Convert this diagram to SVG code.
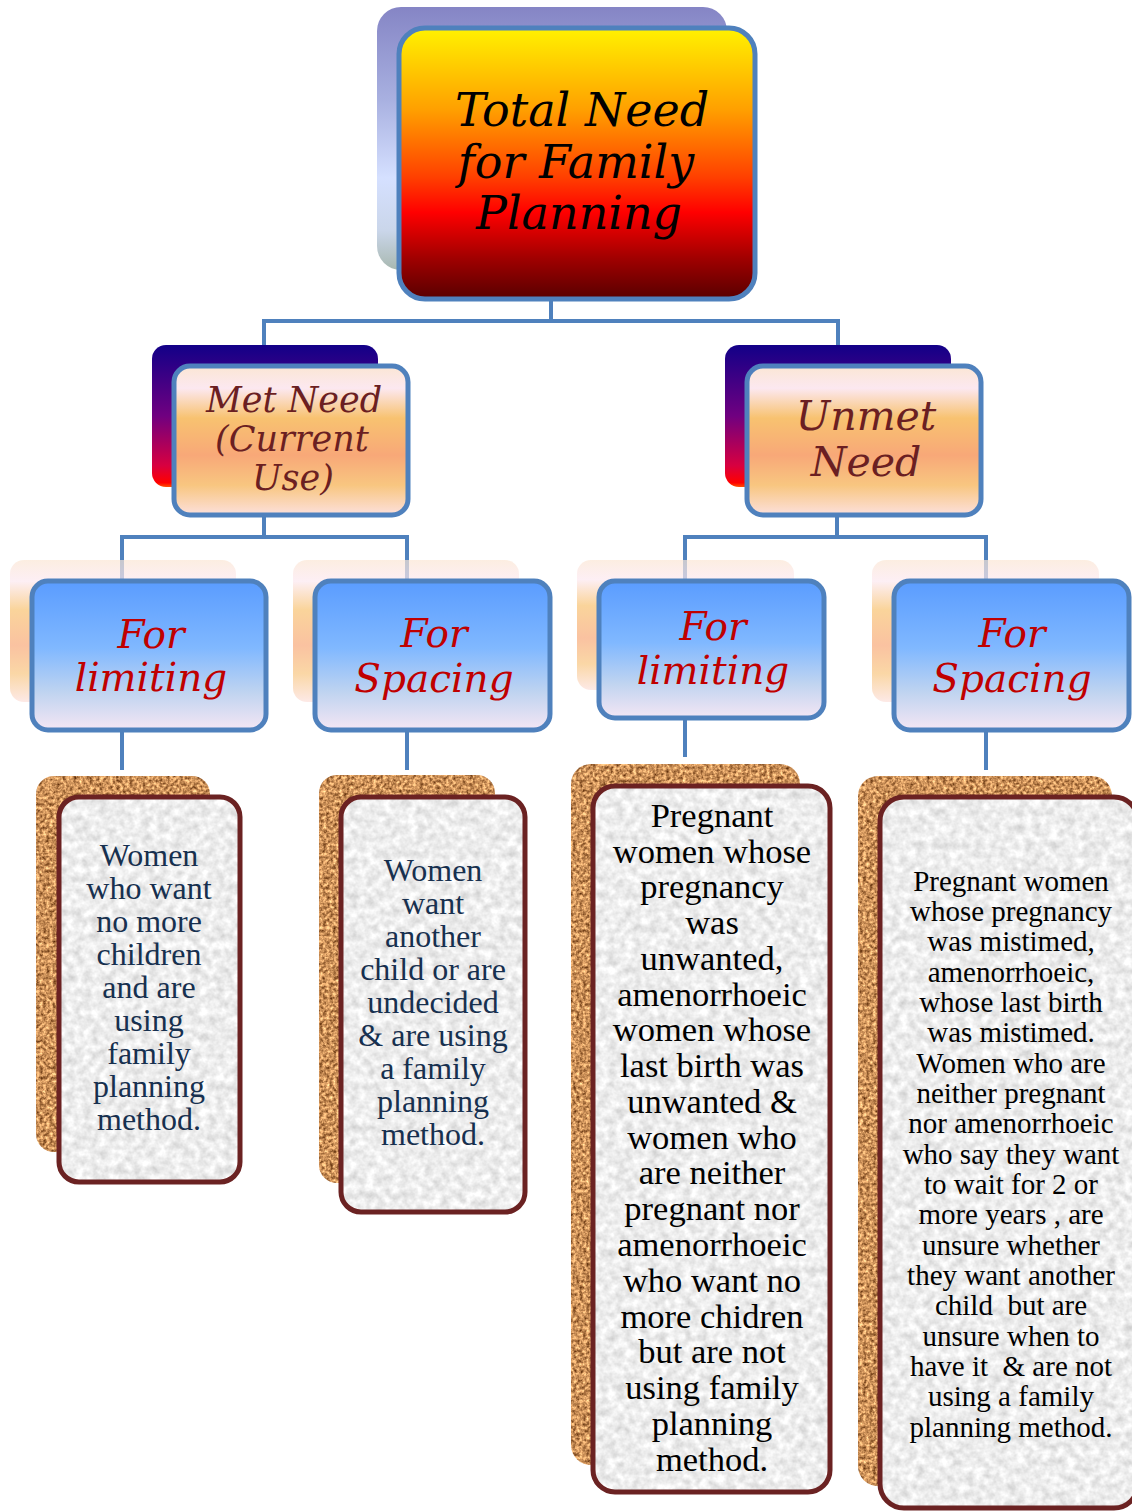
<svg xmlns="http://www.w3.org/2000/svg" width="1132" height="1512" viewBox="0 0 1132 1512">
<defs>
<linearGradient id="gTopBack" x1="0" y1="0" x2="0" y2="1">
<stop offset="0" stop-color="#8585C5"/><stop offset="0.35" stop-color="#A8B0E0"/><stop offset="0.65" stop-color="#D5E0FF"/><stop offset="0.85" stop-color="#CAD6EA"/><stop offset="1" stop-color="#A8B8B0"/>
</linearGradient>
<linearGradient id="gTop" x1="0" y1="0" x2="0" y2="1">
<stop offset="0" stop-color="#FFF200"/><stop offset="0.3" stop-color="#FFA000"/><stop offset="0.55" stop-color="#FF4000"/><stop offset="0.68" stop-color="#FF0000"/><stop offset="0.85" stop-color="#A00000"/><stop offset="1" stop-color="#580000"/>
</linearGradient>
<linearGradient id="gL2Back" x1="0" y1="0" x2="0" y2="1">
<stop offset="0" stop-color="#120088"/><stop offset="0.5" stop-color="#700080"/><stop offset="0.85" stop-color="#D80040"/><stop offset="0.97" stop-color="#FF0000"/><stop offset="1" stop-color="#FF5000"/>
</linearGradient>
<linearGradient id="gPeach" x1="0" y1="0" x2="0" y2="1">
<stop offset="0" stop-color="#FBE6D4"/><stop offset="0.15" stop-color="#FCE8F0"/><stop offset="0.35" stop-color="#F8C270"/><stop offset="0.6" stop-color="#F8A878"/><stop offset="0.8" stop-color="#F8C680"/><stop offset="1" stop-color="#FCE0DC"/>
</linearGradient>
<linearGradient id="gBlue" x1="0" y1="0" x2="0" y2="1">
<stop offset="0" stop-color="#5A9CFF"/><stop offset="0.45" stop-color="#80B8FF"/><stop offset="0.75" stop-color="#C0D4F0"/><stop offset="1" stop-color="#F4E6F4"/>
</linearGradient>
<filter id="cork" x="0" y="0" width="100%" height="100%" color-interpolation-filters="sRGB">
<feTurbulence type="fractalNoise" baseFrequency="0.3" numOctaves="3" seed="4" result="n"/>
<feColorMatrix in="n" type="matrix" values="1.1 0 0 0 0.25  1.0 0 0 0 0.07  0.8 0 0 0 -0.05  0 0 0 0 1" result="c"/>
<feComposite in="c" in2="SourceGraphic" operator="in"/>
</filter>
<filter id="paper" x="0" y="0" width="100%" height="100%" color-interpolation-filters="sRGB">
<feTurbulence type="fractalNoise" baseFrequency="0.12" numOctaves="3" seed="7" result="n"/>
<feColorMatrix in="n" type="matrix" values="0.28 0 0 0 0.79  0.28 0 0 0 0.79  0.28 0 0 0 0.79  0 0 0 0 1" result="c"/>
<feComposite in="c" in2="SourceGraphic" operator="in"/>
</filter>
</defs>
<style>
.conn{fill:none;stroke:#4F81BD;stroke-width:4}
.front{stroke:#4F81BD;stroke-width:5}
.t1{font-family:"DejaVu Serif","Liberation Serif",serif;font-style:italic;font-size:46px;fill:#000;text-anchor:middle}
.t2{font-family:"DejaVu Serif","Liberation Serif",serif;font-style:italic;fill:#6B1F22;text-anchor:middle}
.t3{font-family:"DejaVu Serif","Liberation Serif",serif;font-style:italic;font-size:39px;fill:#C00000;text-anchor:middle}
.t4{font-family:"Liberation Serif","Times New Roman",serif;text-anchor:middle}
.edge{fill:none;stroke:#6B2222;stroke-width:5}
</style>
<rect width="1132" height="1512" fill="#FFFFFF"/>

<g id="connectors">
<path class="conn" d="M551 299V321M264 366V321H838V366"/>
<path class="conn" d="M264 515V537M122 581V537H407V581"/>
<path class="conn" d="M837 515V537M685 581V537H986V581"/>
<path class="conn" d="M122 730V770M407 730V770M685 718V757M986 730V770"/>
</g>

<g id="total-need">
<rect x="377" y="7" width="350" height="263" rx="24" fill="url(#gTopBack)"/>
<rect class="front" x="399" y="28" width="356" height="271" rx="26" fill="url(#gTop)"/>
<text class="t1" x="582" y="126">Total Need</text>
<text class="t1" x="576" y="178">for Family</text>
<text class="t1" x="579" y="229">Planning</text>
</g>

<g id="met-need">
<rect x="152" y="345" width="226" height="142" rx="14" fill="url(#gL2Back)"/>
<rect class="front" x="174" y="366" width="234" height="149" rx="16" fill="url(#gPeach)"/>
<text class="t2" font-size="35" x="294" y="412">Met Need</text>
<text class="t2" font-size="35" x="292" y="451">(Current</text>
<text class="t2" font-size="35" x="293" y="490">Use)</text>
</g>

<g id="unmet-need">
<rect x="725" y="345" width="226" height="142" rx="14" fill="url(#gL2Back)"/>
<rect class="front" x="747" y="366" width="234" height="149" rx="16" fill="url(#gPeach)"/>
<text class="t2" font-size="41" x="866" y="430">Unmet</text>
<text class="t2" font-size="41" x="866" y="476">Need</text>
</g>

<g id="met-limiting">
<rect x="10" y="560" width="226" height="142" rx="14" fill="url(#gPeach)" opacity="0.7"/>
<rect class="front" x="32" y="581" width="234" height="149" rx="16" fill="url(#gBlue)"/>
<text class="t3" x="151" y="648">For</text>
<text class="t3" x="151" y="691">limiting</text>
</g>

<g id="met-spacing">
<rect x="293" y="560" width="226" height="142" rx="14" fill="url(#gPeach)" opacity="0.7"/>
<rect class="front" x="315" y="581" width="235" height="149" rx="16" fill="url(#gBlue)"/>
<text class="t3" x="434" y="647">For</text>
<text class="t3" x="434" y="692">Spacing</text>
</g>

<g id="unmet-limiting">
<rect x="577" y="560" width="217" height="130" rx="14" fill="url(#gPeach)" opacity="0.7"/>
<rect class="front" x="599" y="581" width="225" height="137" rx="16" fill="url(#gBlue)"/>
<text class="t3" x="713" y="640">For</text>
<text class="t3" x="713" y="684">limiting</text>
</g>

<g id="unmet-spacing">
<rect x="872" y="560" width="227" height="142" rx="14" fill="url(#gPeach)" opacity="0.7"/>
<rect class="front" x="894" y="581" width="235" height="149" rx="16" fill="url(#gBlue)"/>
<text class="t3" x="1012" y="647">For</text>
<text class="t3" x="1012" y="692">Spacing</text>
</g>

<g id="desc-met-limiting">
<rect x="36" y="776" width="174" height="376" rx="18" fill="#C08850" filter="url(#cork)"/>
<rect x="59" y="797" width="181" height="385" rx="20" fill="#EEE" filter="url(#paper)"/>
<rect class="edge" x="59" y="797" width="181" height="385" rx="20"/>
<text class="t4" font-size="32" fill="#17304F"><tspan x="149" y="866">Women</tspan><tspan x="149" y="899">who want</tspan><tspan x="149" y="932">no more</tspan><tspan x="149" y="965">children</tspan><tspan x="149" y="998">and are</tspan><tspan x="149" y="1031">using</tspan><tspan x="149" y="1064">family</tspan><tspan x="149" y="1097">planning</tspan><tspan x="149" y="1130">method.</tspan></text>
</g>

<g id="desc-met-spacing">
<rect x="319" y="775" width="176" height="408" rx="18" fill="#C08850" filter="url(#cork)"/>
<rect x="341" y="797" width="184" height="415" rx="20" fill="#EEE" filter="url(#paper)"/>
<rect class="edge" x="341" y="797" width="184" height="415" rx="20"/>
<text class="t4" font-size="32" fill="#17304F"><tspan x="433" y="881">Women</tspan><tspan x="433" y="914">want</tspan><tspan x="433" y="947">another</tspan><tspan x="433" y="980">child or are</tspan><tspan x="433" y="1013">undecided</tspan><tspan x="433" y="1046">&amp; are using</tspan><tspan x="433" y="1079">a family</tspan><tspan x="433" y="1112">planning</tspan><tspan x="433" y="1145">method.</tspan></text>
</g>

<g id="desc-unmet-limiting">
<rect x="571" y="764" width="229" height="701" rx="20" fill="#C08850" filter="url(#cork)"/>
<rect x="593" y="786" width="237" height="706" rx="22" fill="#EEE" filter="url(#paper)"/>
<rect class="edge" x="593" y="786" width="237" height="706" rx="22"/>
<text class="t4" font-size="34.5" fill="#000"><tspan x="712" y="827">Pregnant</tspan><tspan x="712" y="863">women whose</tspan><tspan x="712" y="898">pregnancy</tspan><tspan x="712" y="934">was</tspan><tspan x="712" y="970">unwanted,</tspan><tspan x="712" y="1006">amenorrhoeic</tspan><tspan x="712" y="1041">women whose</tspan><tspan x="712" y="1077">last birth was</tspan><tspan x="712" y="1113">unwanted &amp;</tspan><tspan x="712" y="1149">women who</tspan><tspan x="712" y="1184">are neither</tspan><tspan x="712" y="1220">pregnant nor</tspan><tspan x="712" y="1256">amenorrhoeic</tspan><tspan x="712" y="1292">who want no</tspan><tspan x="712" y="1328">more chidren</tspan><tspan x="712" y="1363">but are not</tspan><tspan x="712" y="1399">using family</tspan><tspan x="712" y="1435">planning</tspan><tspan x="712" y="1471">method.</tspan></text>
</g>

<g id="desc-unmet-spacing">
<rect x="858" y="776" width="254" height="710" rx="20" fill="#C08850" filter="url(#cork)"/>
<rect x="880" y="797" width="258" height="711" rx="24" fill="#EEE" filter="url(#paper)"/>
<rect class="edge" x="880" y="797" width="258" height="711" rx="24"/>
<text class="t4" font-size="29" fill="#000" xml:space="preserve"><tspan x="1011" y="891">Pregnant women</tspan><tspan x="1011" y="921">whose pregnancy</tspan><tspan x="1011" y="951">was mistimed,</tspan><tspan x="1011" y="982">amenorrhoeic,</tspan><tspan x="1011" y="1012">whose last birth</tspan><tspan x="1011" y="1042">was mistimed.</tspan><tspan x="1011" y="1073">Women who are</tspan><tspan x="1011" y="1103">neither pregnant</tspan><tspan x="1011" y="1133">nor amenorrhoeic</tspan><tspan x="1011" y="1164">who say they want</tspan><tspan x="1011" y="1194">to wait for 2 or</tspan><tspan x="1011" y="1224">more years , are</tspan><tspan x="1011" y="1255">unsure whether</tspan><tspan x="1011" y="1285">they want another</tspan><tspan x="1011" y="1315">child  but are</tspan><tspan x="1011" y="1346">unsure when to</tspan><tspan x="1011" y="1376">have it  &amp; are not</tspan><tspan x="1011" y="1406">using a family</tspan><tspan x="1011" y="1437">planning method.</tspan></text>
</g>
</svg>
